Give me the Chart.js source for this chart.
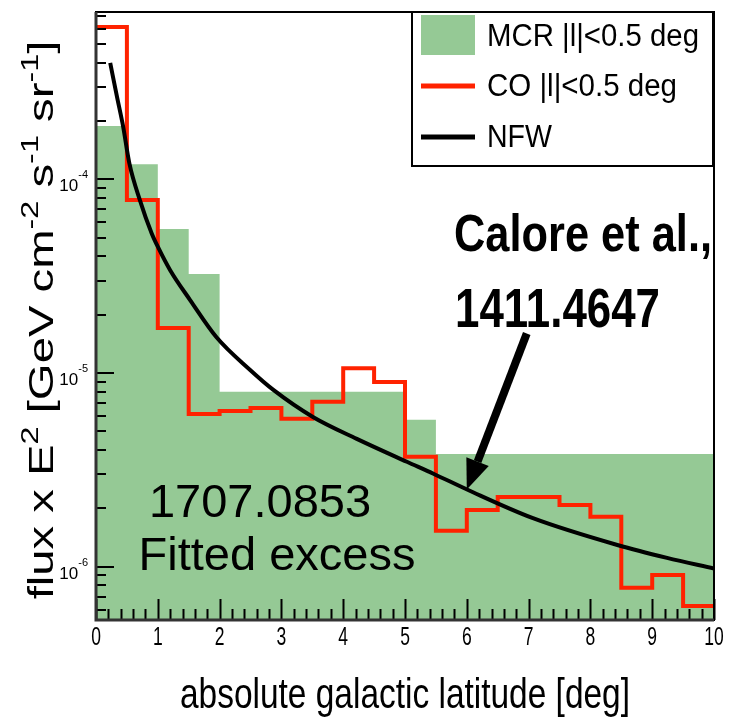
<!DOCTYPE html>
<html>
<head>
<meta charset="utf-8">
<script src="https://cdn.jsdelivr.net/npm/chart.js@4.4.1/dist/chart.umd.min.js"></script>
<style>
  html, body { margin: 0; padding: 0; background: #fff; }
  #wrap { width: 734px; height: 720px; position: relative; }
</style>
</head>
<body>
<div id="wrap"><canvas id="flux"></canvas></div>
<script>
// MCR template, |l| < 0.5 deg, binned in |b| (deg)
const mcrEdges = [0, 0.5, 1, 1.5, 2, 5, 5.5, 10];
const mcrFlux = [1.89e-4, 1.20e-4, 5.55e-5, 3.25e-5, 8.0e-6, 5.73e-6, 3.82e-6];

// CO template, 0.5 deg bins
const coEdges = [0, 0.5, 1, 1.5, 2, 2.5, 3, 3.5, 4, 4.5, 5, 5.5, 6, 6.5, 7, 7.5, 8, 8.5, 9, 9.5, 10];
const coFlux = [6.14e-4, 7.84e-5, 1.71e-5, 6.15e-6, 6.37e-6, 6.6e-6, 5.8e-6, 7.1e-6, 1.06e-5, 9.0e-6,
                3.69e-6, 1.53e-6, 1.96e-6, 2.29e-6, 2.29e-6, 2.08e-6, 1.81e-6, 7.77e-7, 9.06e-7, 6.26e-7];

// NFW profile
const nfwLat = [0.23, 0.34, 0.44, 0.54, 0.71, 0.90, 1.01, 1.20, 1.52, 1.95, 2.49, 2.87, 3.51, 4.22, 5.03, 5.46, 6.03, 7.07, 8.45, 9.24, 10.0];
const nfwFlux = [4.0e-4, 2.67e-4, 1.87e-4, 1.21e-4, 7.83e-5, 5.28e-5, 4.43e-5, 3.40e-5, 2.39e-5, 1.53e-5, 1.04e-5,
                 8.18e-6, 5.93e-6, 4.57e-6, 3.48e-6, 3.02e-6, 2.48e-6, 1.78e-6, 1.29e-6, 1.11e-6, 9.77e-7];

const xTicks = [0, 1, 2, 3, 4, 5, 6, 7, 8, 9, 10];
const yDecades = [1e-6, 1e-5, 1e-4];

const arrowTip = [6.0, 2.5e-6];
const arrowTail = [6.97, 1.6e-5];

const GREEN = '#95c995';
const RED = '#ff2200';
const SANS = '"Liberation Sans", Arial, sans-serif';

// histogram bins -> points for a stepped line
function steps(edges, values) {
  const pts = values.map((v, i) => ({ x: edges[i], y: v }));
  pts.push({ x: edges[edges.length - 1], y: values[values.length - 1] });
  return pts;
}

// horizontal text squeezed by factor sx
function squeezeText(ctx, text, x, y, font, sx, align) {
  ctx.save();
  ctx.font = font;
  ctx.translate(x, y);
  ctx.scale(sx, 1);
  ctx.textAlign = align || 'left';
  ctx.textBaseline = 'alphabetic';
  ctx.fillText(text, 0, 0);
  ctx.restore();
}

// horizontal text squeezed to a given width
function fitText(ctx, text, x, y, font, width, align) {
  ctx.save();
  ctx.font = font;
  const sx = width ? width / ctx.measureText(text).width : 1;
  ctx.restore();
  squeezeText(ctx, text, x, y, font, sx, align);
}

function drawYTitle(ctx, area) {
  const parts = [['flux x E', 0], ['2', 1], [' [GeV cm', 0], ['-2', 1], [' s', 0], ['-1', 1], [' sr', 0], ['-1', 1], [']', 0]];
  const big = '35px ' + SANS, small = '24px ' + SANS;
  ctx.save();
  ctx.translate(53, (area.top + area.bottom) / 2 + 4);
  ctx.rotate(-Math.PI / 2);
  ctx.scale(1.35, 1);
  ctx.textAlign = 'left';
  ctx.textBaseline = 'alphabetic';
  ctx.fillStyle = '#000';
  let total = 0;
  parts.forEach(([t, sup]) => { ctx.font = sup ? small : big; total += ctx.measureText(t).width; });
  let cx = -total / 2;
  parts.forEach(([t, sup]) => {
    ctx.font = sup ? small : big;
    ctx.fillText(t, cx, sup ? -15 : 0);
    cx += ctx.measureText(t).width;
  });
  ctx.restore();
}

const decor = {
  id: 'decor',
  afterDatasetsDraw(chart) {
    const { ctx, chartArea: a, scales: { x, y } } = chart;
    ctx.save();

    // inward tick marks
    ctx.strokeStyle = '#000';
    ctx.lineWidth = 2;
    ctx.beginPath();
    for (let e = -7; e <= -3; e++) {
      for (let k = 1; k <= 9; k++) {
        const v = k * Math.pow(10, e);
        if (v < y.min || v > y.max) continue;
        const py = Math.round(y.getPixelForValue(v));
        ctx.moveTo(a.left, py);
        ctx.lineTo(a.left + (k === 1 ? 18 : 10), py);
      }
    }
    for (let i = 0; i <= 50; i++) {
      const px = Math.round(x.getPixelForValue(i * 0.2)) + 0.5;
      ctx.moveTo(px, a.bottom);
      ctx.lineTo(px, a.bottom - (i % 5 === 0 ? 21 : 11));
    }
    ctx.stroke();

    // frame
    ctx.lineWidth = 2;
    ctx.strokeRect(a.left, a.top, a.width, a.height);
    ctx.strokeStyle = '#333';
    ctx.lineWidth = 3;
    ctx.beginPath();
    ctx.moveTo(a.left, a.top);
    ctx.lineTo(a.left, a.bottom);
    ctx.lineTo(a.right, a.bottom);
    ctx.stroke();

    // tick labels
    ctx.fillStyle = '#000';
    x.ticks.forEach(t => {
      squeezeText(ctx, String(t.value), x.getPixelForValue(t.value), 645, '25px ' + SANS, 0.7, 'center');
    });
    y.ticks.forEach(t => {
      const py = y.getPixelForValue(t.value);
      const exp = String(Math.round(Math.log10(t.value)));
      ctx.textBaseline = 'alphabetic';
      ctx.font = '11px ' + SANS;
      const w = ctx.measureText(exp).width;
      ctx.textAlign = 'left';
      ctx.fillText(exp, 88 - w, py - 1);
      ctx.font = '17px ' + SANS;
      ctx.textAlign = 'right';
      ctx.fillText('10', 88 - w, py + 12);
    });
    ctx.textAlign = 'left';

    // axis titles
    fitText(ctx, 'absolute galactic latitude [deg]', (a.left + a.right) / 2, 708, '42px ' + SANS, 450, 'center');
    drawYTitle(ctx, a);

    // legend box
    const ds = chart.data.datasets;
    const lx = 412, ly = a.top, lw = a.right - 1 - lx, lh = 154;
    ctx.fillStyle = '#fff';
    ctx.fillRect(lx, ly, lw, lh);
    ctx.strokeStyle = '#000';
    ctx.lineWidth = 2;
    ctx.strokeRect(lx, ly, lw, lh);
    ctx.fillStyle = ds[0].backgroundColor;
    ctx.fillRect(421, 15, 54, 40);
    ctx.lineWidth = 5;
    ctx.strokeStyle = ds[1].borderColor;
    ctx.beginPath(); ctx.moveTo(421, 86); ctx.lineTo(475, 86); ctx.stroke();
    ctx.strokeStyle = ds[2].borderColor;
    ctx.beginPath(); ctx.moveTo(421, 137); ctx.lineTo(475, 137); ctx.stroke();
    ctx.fillStyle = '#000';
    fitText(ctx, ds[0].label, 487, 46, '31px ' + SANS, 212);
    fitText(ctx, ds[1].label, 487, 96, '31px ' + SANS, 190);
    fitText(ctx, ds[2].label, 487, 147, '31px ' + SANS, 65);

    // arrow to the NFW curve
    const tip = { x: x.getPixelForValue(arrowTip[0]), y: y.getPixelForValue(arrowTip[1]) };
    const tail = { x: x.getPixelForValue(arrowTail[0]), y: y.getPixelForValue(arrowTail[1]) };
    const ang = Math.atan2(tip.y - tail.y, tip.x - tail.x);
    const headLen = 30, headHalf = 12;
    const bx = tip.x - headLen * Math.cos(ang), by = tip.y - headLen * Math.sin(ang);
    ctx.strokeStyle = '#000';
    ctx.lineWidth = 8;
    ctx.beginPath(); ctx.moveTo(tail.x, tail.y); ctx.lineTo(bx, by); ctx.stroke();
    ctx.beginPath();
    ctx.moveTo(tip.x, tip.y);
    ctx.lineTo(bx + headHalf * Math.sin(ang), by - headHalf * Math.cos(ang));
    ctx.lineTo(bx - headHalf * Math.sin(ang), by + headHalf * Math.cos(ang));
    ctx.closePath();
    ctx.fill();

    // annotations
    fitText(ctx, 'Calore et al.,', 454, 251, 'bold 52px ' + SANS, 258);
    fitText(ctx, '1411.4647', 455, 327, 'bold 56px ' + SANS, 205);
    fitText(ctx, '1707.0853', 260, 517, '47px ' + SANS, 0, 'center');
    fitText(ctx, 'Fitted excess', 277, 570, '47px ' + SANS, 0, 'center');

    ctx.restore();
  }
};

new Chart(document.getElementById('flux'), {
  type: 'line',
  data: {
    datasets: [
      {
        label: 'MCR |l|<0.5 deg',
        data: steps(mcrEdges, mcrFlux),
        stepped: 'before',
        borderWidth: 0,
        borderColor: GREEN,
        backgroundColor: GREEN,
        fill: 'start',
        pointRadius: 0,
        order: 3
      },
      {
        label: 'CO |l|<0.5 deg',
        data: steps(coEdges, coFlux),
        stepped: 'before',
        borderWidth: 4,
        borderColor: RED,
        fill: false,
        pointRadius: 0,
        order: 2
      },
      {
        label: 'NFW',
        data: nfwLat.map((v, i) => ({ x: v, y: nfwFlux[i] })),
        cubicInterpolationMode: 'monotone',
        borderWidth: 4,
        borderColor: '#000',
        fill: false,
        pointRadius: 0,
        order: 1
      }
    ]
  },
  options: {
    responsive: true,
    maintainAspectRatio: false,
    animation: false,
    layout: { padding: { left: 0, top: 12, right: 20, bottom: 0 } },
    plugins: {
      legend: { display: false },
      tooltip: { enabled: false }
    },
    scales: {
      x: {
        type: 'linear',
        min: 0,
        max: 10,
        grid: { display: false },
        border: { display: false },
        ticks: { display: false },
        afterBuildTicks: (scale) => { scale.ticks = xTicks.map(v => ({ value: v })); },
        afterFit: (scale) => { scale.height = 100; scale.paddingLeft = 0; scale.paddingRight = 0; }
      },
      y: {
        type: 'logarithmic',
        min: 5.3e-7,
        max: 7.33e-4,
        bounds: 'data',
        grid: { display: false },
        border: { display: false },
        ticks: { display: false },
        afterBuildTicks: (scale) => { scale.ticks = yDecades.map(v => ({ value: v })); },
        afterFit: (scale) => { scale.width = 96; scale.paddingTop = 0; scale.paddingBottom = 0; }
      }
    }
  },
  plugins: [decor]
});
</script>
</body>
</html>
